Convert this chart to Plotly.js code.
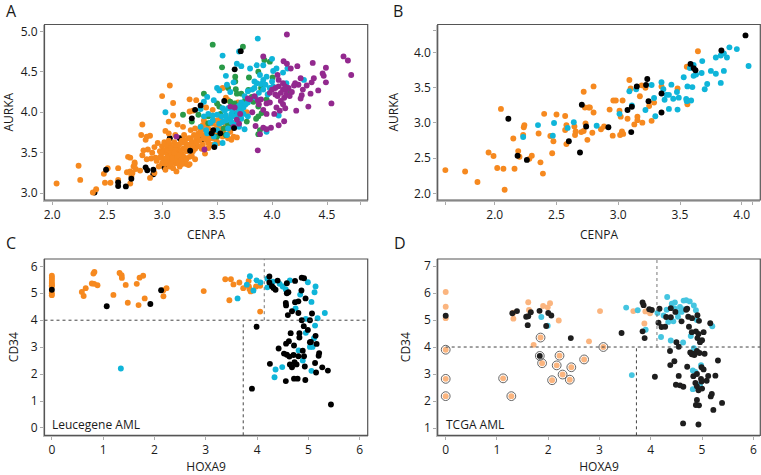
<!DOCTYPE html>
<html><head><meta charset="utf-8">
<script src="https://cdn.plot.ly/plotly-3.0.1.min.js"></script>
<style>html,body{margin:0;padding:0;background:#fff}#c{width:761px;height:475px}</style>
</head><body><div id="c"></div>
<script>
const aOrange=[[2.04,3.12],[2.24,3.34],[2.255,3.165],[2.37,3.01],[2.40,3.05],[2.47,3.24],[2.505,3.31],[2.48,3.13],[2.53,3.13],[2.60,3.31],[2.60,3.165],[2.71,3.12],
[2.68,3.26],[2.71,3.27],[2.69,3.45],[2.71,3.44],[2.75,3.38],[2.74,3.33],[2.73,3.25],[2.76,3.30],[2.80,3.28],[2.75,3.36],[2.72,3.21],
[2.82,3.85],[2.81,3.72],[2.86,3.70],[2.85,3.66],[2.89,3.71],[2.83,3.53],[2.87,3.54],[2.82,3.47],[2.89,3.19],[2.93,3.25],[2.86,3.42],[2.90,3.43],
[2.91,3.50],[2.93,3.57],[2.94,3.44],[2.96,3.62],[2.95,3.40],[2.98,3.52],[2.99,3.46],[3.0,3.58],[3.01,3.42],[3.02,3.63],[3.03,3.36],[3.04,3.5],[3.05,3.55],[3.06,3.45],[3.07,3.6],[3.08,3.4],[3.09,3.52],[3.1,3.47],[3.1,3.56],[3.11,3.63],[3.12,3.37],[3.13,3.5],[3.13,3.44],[3.14,3.58],[3.15,3.53],[3.16,3.42],[3.16,3.33],[3.17,3.62],[3.18,3.48],[3.19,3.55],[3.2,3.45],[3.2,3.66],[3.21,3.38],[3.22,3.52],[3.23,3.6],[3.24,3.35],[3.25,3.45],
[3.03,3.29],[3.07,3.33],[3.0,3.37],[2.97,3.33],[3.1,3.31],[3.13,3.27],[3.04,3.44],[3.08,3.49],[3.06,3.53],[3.11,3.42],[3.08,3.56],[3.03,3.6],[3.12,3.54],[3.14,3.47],[3.17,3.53],[3.09,3.44],[3.11,3.5],[3.15,3.6],[3.19,3.4],[3.22,3.42],[3.22,3.36],[3.25,3.36],[3.02,3.53],[3.0,3.5],[2.98,3.44],[3.05,3.38],[3.12,3.6],[3.18,3.65],[3.21,3.62],[3.06,3.65],
[3.0,4.20],[3.07,4.33],[3.10,4.115],[3.10,3.96],[3.06,3.885],[3.03,3.77],[3.06,3.74],[3.12,3.72],[3.14,3.85],[3.19,3.82],[3.25,4.16],[3.31,4.15],[3.25,4.01],[3.28,4.02],[3.40,4.06],[3.46,4.03],[3.55,4.30],[3.58,4.18],[3.20,3.72],[3.26,3.78],[3.24,3.68],[3.27,3.63],[3.29,3.72],[3.30,3.8],[3.31,3.66],[3.33,3.74],[3.33,3.58],[3.35,3.82],[3.36,3.72],[3.37,3.6],[3.38,3.9],[3.39,3.78],[3.39,3.49],[3.40,3.66],[3.41,3.85],[3.42,3.62],[3.43,3.96],[3.44,3.74],[3.45,3.6],[3.46,3.86],[3.47,3.9],[3.48,3.78],[3.49,3.66],[3.50,3.83],[3.51,3.62],[3.53,3.92],[3.54,3.8],[3.55,3.7],[3.56,3.88],[3.58,3.95],[3.60,3.82],[3.62,3.76],[3.60,3.68],[3.64,3.86],[3.65,3.7],[3.68,3.69],[3.63,3.66],[3.30,3.55],[3.28,3.52],[3.36,3.55],[3.42,3.56],[3.31,3.62],[3.73,4.05],[3.77,4.0],[3.69,4.12],[3.6,4.15],
[3.28,3.58],[3.34,3.65],[3.38,3.68],[3.32,3.7],[3.35,3.77],[3.4,3.72],[3.43,3.68],[3.46,3.68],[3.42,3.8],[3.37,3.84],[3.47,3.75],[3.51,3.72],[3.55,3.78],[3.58,3.85],[3.26,3.56],[3.22,3.57],[3.27,3.46],[3.3,3.42],[3.15,3.38],[3.18,3.36],[3.08,3.36],[3.26,3.68],[3.56,3.75],[3.5,3.9]];
const aBlackUnder=[[2.385,3.01],[3.07,3.68],[3.16,3.68],[2.92,3.235],[3.36,3.66],[3.30,3.60],[3.02,3.32]];
const aBlackOver=[[2.49,3.29],[2.60,3.135],[2.60,3.09],[2.67,3.085],[2.72,3.18],[2.85,3.32],[2.865,3.285],[2.92,3.29],[3.255,3.525],[3.27,3.925],[3.30,4.03],[3.35,4.085],[3.475,3.57],[3.465,3.78],[3.53,3.74],[3.565,4.14],[3.66,4.53],[3.715,4.755],[3.655,3.805],[3.45,3.74]];
const aGreen=[[3.46,4.835],[3.735,4.81],[3.93,4.645],[3.98,4.625],[3.545,4.555],[3.875,4.50],[3.665,4.44],[3.665,4.38],[3.79,4.43],[4.005,4.43],[3.38,4.23],[3.60,4.30],[3.67,4.285],[3.68,4.23],[3.72,4.23],[3.785,4.275],[3.19,3.97],[3.33,3.97],[3.52,4.07],[3.62,4.13],[3.66,4.11],[3.815,4.19],[3.83,4.13],[3.875,4.07],[3.95,4.16],[3.905,3.99],[3.875,3.95],[3.855,3.92],[3.77,3.885],[3.89,3.78],[3.875,3.73],[4.14,4.255],[3.56,3.80],[3.42,3.865],[3.50,3.70],[3.27,3.885],[3.755,4.15],[3.5,4.11],[3.65,3.99],[3.6,3.85],[3.53,3.98],[3.58,3.72],[3.9,4.3],[3.72,4.0],[3.42,3.95]];
const aCyan=[[3.87,4.91],[3.55,4.70],[3.70,4.75],[3.68,4.60],[3.72,4.57],[3.03,4.00],[4.0,4.66],[3.92,4.58],[3.86,4.58],[3.80,4.54],[4.01,4.51],[4.04,4.54],[4.14,4.54],[4.10,4.49],[4.29,4.40],[3.58,4.45],[3.50,4.30],[3.41,4.19],[3.38,4.13],[3.35,4.04],[3.59,4.34],[3.65,4.37],[3.84,4.38],[3.86,4.36],[3.89,4.46],[3.95,4.44],[3.92,4.40],[4.01,4.32],[4.13,4.36],[4.06,3.96],[3.95,3.76],[3.75,3.79],[3.59,3.72],[3.47,3.70],[3.41,3.74],[3.35,3.82],[3.38,3.95],
[3.42,3.98],[3.46,3.96],[3.50,3.97],[3.54,3.95],[3.58,3.96],[3.55,4.05],[3.60,4.05],[3.63,3.98],[3.66,3.95],[3.69,4.0],[3.72,4.03],[3.74,4.06],[3.78,4.12],[3.72,4.12],[3.68,4.06],[3.78,4.26],[3.82,4.28],[3.88,4.24],[3.92,4.28],[3.96,4.22],[3.85,4.18],[3.98,4.3],[3.47,4.15],[3.52,4.27],[3.62,4.25],[3.63,3.88],[3.66,3.85],[3.55,3.88],[3.44,3.87],[3.78,3.95],[3.72,3.92],[3.7,3.82],[3.5,3.78],[3.52,3.86],[3.6,3.8],[3.4,3.78],[3.55,3.62],[3.48,3.6],
[3.57,4.02],[3.64,4.02],[3.7,4.08],[3.76,4.1],[3.68,3.96],[3.74,3.98],[3.46,3.9],[3.9,4.35],[3.94,4.34],[3.84,4.3],[4.0,4.38],[3.75,4.2],[3.62,3.92],[3.58,3.9]];
const aPurple=[[4.135,4.96],[3.92,4.69],[4.105,4.63],[4.135,4.60],[4.17,4.54],[4.23,4.57],[4.37,4.61],[4.49,4.55],[4.46,4.48],[4.47,4.45],[4.49,4.37],[4.65,4.69],[4.69,4.64],[4.72,4.46],[4.54,4.11],[4.42,4.27],[4.38,4.42],[4.36,4.37],[4.35,4.23],[4.33,4.07],[4.22,4.02],[4.26,4.42],[4.27,4.21],[4.26,4.17],[4.28,4.28],[4.315,4.33],[4.24,4.34],[4.21,4.36],[4.18,4.25],[4.13,4.28],[4.10,4.28],[4.06,4.32],[4.03,4.30],[4.10,4.36],[4.06,4.40],[4.05,4.46],[4.0,4.28],[3.98,4.24],[4.12,4.05],[4.04,4.06],[4.11,3.89],[4.06,3.84],[3.99,3.81],[3.92,3.81],[3.95,3.79],[3.89,3.73],[3.87,3.53],[3.85,3.83],[3.385,3.54],[3.13,3.70],[3.62,4.07],[3.66,4.06],[3.68,3.91],[3.71,3.98],[3.78,4.17],[3.87,4.15],[3.92,4.03],[3.95,4.11],[4.05,4.2],[4.08,4.14],[4.11,4.18],[4.13,4.22],[4.15,4.3],[4.08,4.24],[4.03,4.22],[4.16,4.2],[4.1,4.1],[4.07,4.02],[3.98,4.12],[3.9,4.16],[3.84,4.2],[3.82,4.0],[3.7,3.86],[3.65,3.82],[4.02,3.98],[4.2,4.33],[4.12,4.32],[3.95,3.98],[3.88,4.1],[3.8,4.16]];

const bOrange=[[1.60,2.33],[1.76,2.31],[1.86,2.16],[1.95,2.58],[1.99,2.53],[2.02,2.36],[2.07,2.35],[2.08,2.05],[2.16,2.35],[2.05,3.20],[2.15,2.78],[2.23,2.83],[2.235,2.94],[2.24,2.97],[2.19,2.60],[2.20,2.52],[2.28,2.49],[2.30,2.535],[2.37,2.44],[2.39,2.28],[2.355,2.85],[2.40,3.13],[2.50,3.12],[2.465,2.57],[2.475,2.74],[2.45,2.815],[2.57,3.10],[2.58,2.97],[2.57,2.90],[2.58,2.70],[2.645,2.95],[2.655,2.88],[2.65,2.83],[2.70,2.87],[2.72,2.885],[2.735,2.995],[2.72,3.445],[2.80,3.52],[2.73,3.22],[2.76,3.22],[2.77,3.22],[2.80,3.15],[2.75,2.76],[2.79,2.86],[2.86,2.91],[2.885,2.95],[2.93,3.19],[2.955,2.82],[2.96,3.32],[2.98,3.32],[3.01,3.175],[3.02,3.09],[3.015,2.83],[3.03,2.88],[3.04,2.845],[3.035,3.32],[3.075,3.06],[3.09,3.61],[3.10,3.49],[3.13,2.98],[3.155,3.09],[3.155,3.04],[3.195,3.005],[3.175,3.38],[3.19,3.535],[3.22,3.50],[3.25,3.24],[3.27,3.03],[3.29,3.29],[3.35,3.52],[3.48,3.49],[3.56,3.265],[3.555,3.80],[3.645,4.02]];
const bCyan=[[2.23,2.80],[2.35,2.97],[2.48,3.0],[2.47,2.82],[2.59,2.93],[2.64,3.01],[2.825,2.96],[3.01,3.13],[3.09,3.45],[3.11,3.25],[3.145,3.48],[3.22,3.185],[3.27,3.54],[3.29,3.355],[3.30,3.095],[3.35,3.58],[3.365,3.48],[3.375,3.33],[3.39,3.40],[3.41,3.40],[3.41,3.20],[3.43,3.545],[3.445,3.345],[3.475,3.44],[3.48,3.19],[3.49,3.36],[3.53,3.65],[3.55,3.34],[3.555,3.31],[3.59,3.32],[3.56,3.52],[3.60,3.51],[3.58,3.78],[3.61,3.825],[3.61,3.67],[3.63,3.69],[3.68,3.88],[3.675,3.71],[3.70,3.48],[3.72,3.555],[3.75,3.74],[3.79,3.70],[3.79,3.93],[3.83,3.57],[3.83,3.96],[3.855,3.99],[3.855,3.74],[3.88,3.93],[3.90,4.075],[3.96,4.05],[4.055,3.81]];
const bBlack=[[2.11,3.06],[2.185,2.535],[2.26,2.475],[2.60,2.74],[2.69,2.58],[2.705,3.26],[2.74,2.95],[2.92,2.94],[3.075,3.185],[3.105,2.87],[3.11,3.23],[3.15,3.52],[3.225,3.54],[3.235,3.625],[3.245,3.31],[3.35,3.42],[3.35,3.15],[3.585,3.84],[3.61,3.78],[3.625,3.75],[3.835,4.03],[4.03,4.245]];

const cOrange=[[0,5.65],[0,5.58],[0,5.5],[0,5.42],[0,5.35],[0,5.3],[0,5.25],[0,5.0],[0,4.93],[0.585,5.05],[0.62,4.9],[0.66,5.19],[0.78,5.36],[0.825,5.35],[0.89,5.30],[0.81,5.73],[0.83,5.79],[1.20,4.94],[1.32,5.75],[1.36,5.67],[1.365,5.57],[1.44,5.31],[1.48,4.65],[1.655,5.35],[1.71,5.58],[1.69,4.56],[1.78,5.65],[1.81,4.81],[2.175,4.89],[2.175,5.11],[2.235,5.19],[2.96,5.08],[3.38,5.52],[3.49,5.52],[3.54,5.33],[3.46,4.74],[3.655,5.40],[3.73,5.19],[3.835,5.46],[3.84,5.25],[3.85,5.16],[3.875,5.07],[3.98,5.25],[4.06,5.28],[4.06,4.32]];
const cCyan=[[1.345,2.21],[3.62,4.81],[3.80,5.32],[3.86,5.63],[3.99,5.48],[3.93,5.1],[4.065,5.40],[4.20,5.54],[4.20,5.22],[4.31,5.43],[4.44,5.35],[4.5,5.25],[4.56,5.14],[4.64,5.48],[4.84,4.95],[4.99,5.41],[5.14,5.25],[5.12,5.04],[5.06,4.68],[4.75,4.44],[5.32,4.27],[4.95,4.05],[5.18,4.07],[5.13,3.80],[4.95,3.53],[5.11,3.33],[5.03,3.01],[5.08,3.01],[4.81,2.88],[4.89,2.50],[4.36,2.17],[4.49,2.26],[4.34,1.88],[5.06,2.12]];
const cBlack=[[0,5.13],[1.07,4.52],[1.92,4.60],[2.13,5.11],[4.24,5.62],[4.24,5.40],[4.29,5.26],[4.32,5.2],[4.36,5.13],[4.40,5.47],[4.74,5.46],[4.58,5.37],[4.61,5.04],[4.58,5.0],[4.56,4.64],[4.565,4.55],[4.74,4.67],[4.805,4.70],[4.805,4.27],[4.68,4.33],[4.60,4.19],[4.87,5.58],[4.915,5.56],[4.865,5.10],[4.945,4.81],[5.07,4.25],[4.87,4.0],[5.03,4.0],[4.91,3.78],[3.99,3.76],[4.99,3.64],[4.655,3.52],[4.825,3.52],[4.825,3.36],[5.14,3.42],[4.62,3.22],[4.565,3.13],[4.72,3.06],[5.03,3.18],[5.05,3.19],[5.16,3.12],[4.42,2.95],[4.89,2.87],[4.525,2.76],[4.58,2.72],[4.63,2.65],[4.71,2.71],[4.805,2.66],[4.915,2.66],[5.21,2.78],[5.20,2.68],[4.25,2.38],[4.64,2.36],[4.73,2.44],[4.77,2.36],[4.68,2.25],[4.93,2.28],[5.13,2.41],[5.27,2.25],[5.38,2.13],[5.15,2.06],[4.56,1.74],[4.72,1.83],[4.79,1.83],[4.94,1.78],[3.90,1.46],[5.44,0.87]];

const dOrange=[[0,6.04],[0,5.49],[0,5.07],[1.32,5.27],[1.32,5.05],[1.61,5.66],[1.625,5.37],[1.90,5.52],[1.99,5.47],[2.035,5.62],[2.205,4.98],[3.01,5.33],[3.66,5.33],[3.895,5.32],[3.985,5.25],[3.95,5.35],[3.875,4.87],[2.795,4.21],[1.715,4.08]];
const dCircled=[[0,3.90],[0,2.82],[0,2.18],[1.12,2.84],[1.28,2.18],[1.85,4.35],[1.88,3.40],[2.22,3.68],[2.165,3.32],[2.45,3.25],[2.28,2.98],[2.075,2.77],[2.42,2.79],[2.70,3.54],[3.075,4.0]];
const dCircledBlack=[[1.835,3.67]];
const dCyan=[[3.52,5.46],[3.745,5.36],[3.63,2.96],[1.865,5.11],[1.99,4.79],[4.13,5.26],[4.2,4.37],[4.32,5.85],[4.31,5.38],[4.25,5.17],[4.41,5.6],[4.47,5.65],[4.47,5.42],[4.57,5.48],[4.6,5.3],[4.52,5.28],[4.44,4.95],[4.34,4.93],[4.39,5.05],[4.53,5.12],[4.64,5.72],[4.69,5.73],[4.76,5.69],[4.84,5.54],[4.88,5.36],[4.66,5.4],[4.39,4.24],[4.63,4.17],[4.78,4.41],[4.84,3.96],[4.9,5.0],[5.2,4.77],[3.9,4.64],[4.98,3.33],[4.82,3.13],[4.82,2.44],[4.96,2.6],[4.87,3.08]];
const dBlack=[[0,5.16],[1.39,5.33],[1.30,5.25],[1.57,5.12],[1.61,5.14],[1.66,5.29],[1.60,4.81],[1.83,5.34],[2.0,5.26],[2.06,5.17],[1.96,4.78],[2.44,4.33],[3.43,4.52],[3.84,4.58],[3.88,4.33],[3.84,5.65],[3.86,5.55],[3.97,5.40],[4.02,5.37],[4.17,5.42],[4.15,4.9],[4.21,4.74],[4.28,4.75],[4.30,5.11],[4.39,5.44],[4.39,5.1],[4.48,5.3],[4.60,4.95],[4.69,5.38],[4.71,5.42],[4.73,5.12],[4.745,4.75],[4.805,5.07],[4.91,5.18],[4.94,4.97],[4.8,4.55],[4.88,4.58],[4.93,4.48],[5.03,4.55],[5.16,4.88],[4.91,4.33],[5.0,4.25],[4.96,4.18],[4.50,4.18],[4.545,4.01],[4.375,3.85],[4.46,3.47],[4.38,3.33],[4.71,3.27],[4.08,2.90],[4.545,2.93],[4.49,2.60],[4.57,2.58],[4.635,2.53],[4.77,3.80],[4.8,3.73],[4.85,3.70],[4.9,3.85],[4.95,3.78],[5.05,3.75],[4.82,3.75],[5.31,3.50],[4.99,3.25],[5.03,3.17],[5.26,2.94],[5.12,2.93],[4.83,2.92],[4.9,3.0],[4.87,2.67],[4.98,2.82],[4.99,2.72],[5.09,2.75],[4.9,2.55],[4.93,2.4],[5.0,2.46],[5.17,2.17],[5.19,2.26],[4.9,2.04],[4.88,1.85],[4.94,1.84],[5.22,1.67],[5.39,1.93],[4.63,1.17],[4.93,1.13]];

const xTicksA=[2,2.5,3,3.5,4,4.5,4.8], xLabelsA=['2.0','2.5','3.0','3.5','4.0','4.5',''];
const yTicksA=[3,3.5,4,4.5,5], yLabelsA=['3.0','3.5','4.0','4.5','5.0'];
const xTicksB=[1.6,2,2.5,3,3.5,4,4.09], xLabelsB=['','2.0','2.5','3.0','3.5','4.0',''];
const yTicksB=[2,2.5,3,3.5,4,4.31], yLabelsB=['2.0','2.5','3.0','3.5','4.0',''];
const xTicksCD=[0,1,2,3,4,5,6], yTicksC=[0,1,2,3,4,5,6], yTicksD=[1,2,3,4,5,6,7];
const thresholdsC={h:4,low:3.73,high:4.14}, thresholdsD={h:4,low:3.72,high:4.12};

const W=761,H=475;
const boxes={A:[44.5,367.7,24.5,200],B:[437.7,760.3,24.5,200],C:[44.5,367.7,259,435.3],D:[437.7,760.3,259,435.3]};
const colors={orange:'#f6891f',cyan:'#0fb5d9',green:'#2a9a48',purple:'#93298e',black:'#000000',lo:'#fbb57f',cy2:'#45c5e0',dk:'#1e1e1e'};
function tr(pts,color,xa,ya,extra){return Object.assign({type:'scatter',mode:'markers',x:pts.map(p=>p[0]),y:pts.map(p=>p[1]),xaxis:xa,yaxis:ya,hoverinfo:'skip',
  marker:{color:color,size:5.9,line:{width:0}}},extra||{});}
const ring={marker:{size:8.8,color:'rgba(0,0,0,0)',line:{color:'#555',width:0.9}}};
const data=[
 tr(aBlackUnder,colors.black,'x','y'),tr(aOrange,colors.orange,'x','y'),tr(aGreen,colors.green,'x','y'),tr(aCyan,colors.cyan,'x','y'),tr(aPurple,colors.purple,'x','y'),tr(aBlackOver,colors.black,'x','y'),
 tr(bOrange,colors.orange,'x2','y2'),tr(bCyan,colors.cyan,'x2','y2'),tr(bBlack,colors.black,'x2','y2'),
 tr(cOrange,colors.orange,'x3','y3'),tr(cCyan,colors.cyan,'x3','y3'),tr(cBlack,colors.black,'x3','y3'),
 tr(dOrange,colors.lo,'x4','y4'),tr(dCircled,colors.lo,'x4','y4'),tr(dCyan,colors.cy2,'x4','y4'),tr(dBlack,colors.dk,'x4','y4'),tr(dCircledBlack,colors.dk,'x4','y4'),
 tr(dCircled,'#555','x4','y4',ring),tr(dCircledBlack,'#555','x4','y4',ring)
];
const font={family:'"Open Sans",sans-serif',size:12,color:'#1a1a1a'};
const common={tickmode:'array',ticks:'outside',ticklen:3,tickwidth:1,tickcolor:'#aaa',showgrid:false,zeroline:false,showline:true,linecolor:'#bbb',linewidth:1.5,tickfont:font,automargin:false};
function xax(b,anchor,range,vals,labels,title,standoff){return Object.assign({},common,{anchor:anchor,domain:[b[0]/W,b[1]/W],range:range,tickvals:vals,ticktext:labels,title:{text:title,font:font,standoff:standoff}});}
function yax(b,anchor,range,vals,labels,title,standoff){return Object.assign({},common,{anchor:anchor,domain:[1-b[3]/H,1-b[2]/H],range:range,tickvals:vals,ticktext:labels,title:{text:title,font:font,standoff:standoff}});}
const cdLabels=v=>v.map(String);
function frame(x,y){return {type:'rect',xref:x+' domain',yref:y+' domain',x0:0,x1:1,y0:0,y1:1,line:{color:'#555',width:1.2},layer:'above'};}
function dash(x,y,x0,x1,y0,y1,g){return {type:'line',xref:x,yref:y,x0,x1,y0,y1,line:{color:g||'#444',width:1,dash:'3px,3px'},layer:'above'};}
const xC=[-0.143,6.156],yC=[-0.272,6.272],xD=[-0.156,6.136],yD=[0.73,7.26];
const shapes=[frame('x','y'),frame('x2','y2'),frame('x3','y3'),frame('x4','y4'),
 dash('x3','y3',xC[0],xC[1],thresholdsC.h,thresholdsC.h),dash('x3','y3',thresholdsC.low,thresholdsC.low,yC[0],thresholdsC.h),dash('x3','y3',thresholdsC.high,thresholdsC.high,thresholdsC.h,yC[1],'#777'),
 dash('x4','y4',0,xD[1],thresholdsD.h,thresholdsD.h),dash('x4','y4',thresholdsD.low,thresholdsD.low,yD[0],thresholdsD.h),dash('x4','y4',thresholdsD.high,thresholdsD.high,thresholdsD.h,yD[1],'#777')];
function letter(t,px,py){return {text:t,xref:'paper',yref:'paper',x:px/W,y:1-py/H,xanchor:'center',yanchor:'middle',showarrow:false,font:{family:'"Open Sans",sans-serif',size:16,color:'#1a1a1a'}};}
const layout={width:W,height:H,margin:{l:0,r:0,t:0,b:0},paper_bgcolor:'#fff',plot_bgcolor:'#fff',showlegend:false,font:font,shapes:shapes,
 xaxis:xax(boxes.A,'y',[1.93,4.87],xTicksA,xLabelsA,'CENPA',8),yaxis:yax(boxes.A,'x',[2.917,5.084],yTicksA,yLabelsA,'AURKA',8),
 xaxis2:xax(boxes.B,'y2',[1.538,4.15],xTicksB,xLabelsB,'CENPA',8),yaxis2:yax(boxes.B,'x2',[1.905,4.40],yTicksB,yLabelsB,'AURKA',12),
 xaxis3:xax(boxes.C,'y3',xC,xTicksCD,cdLabels(xTicksCD),'HOXA9',15),yaxis3:yax(boxes.C,'x3',yC,yTicksC,cdLabels(yTicksC),'CD34',9),
 xaxis4:xax(boxes.D,'y4',xD,xTicksCD,cdLabels(xTicksCD),'HOXA9',15),yaxis4:yax(boxes.D,'x4',yD,yTicksD,cdLabels(yTicksD),'CD34',10),
 annotations:[letter('A',11,11.5),letter('B',398,11.5),letter('C',11,243),letter('D',400,243),
  {text:'Leucegene AML',xref:'x3',yref:'y3',x:0,y:0.14,xanchor:'left',yanchor:'middle',showarrow:false,font:font,xshift:-2},
  {text:'TCGA AML',xref:'x4',yref:'y4',x:0,y:1.13,xanchor:'left',yanchor:'middle',showarrow:false,font:font,xshift:-2}]};
Plotly.newPlot('c',data,layout,{staticPlot:true,displayModeBar:false});
</script></body></html>
